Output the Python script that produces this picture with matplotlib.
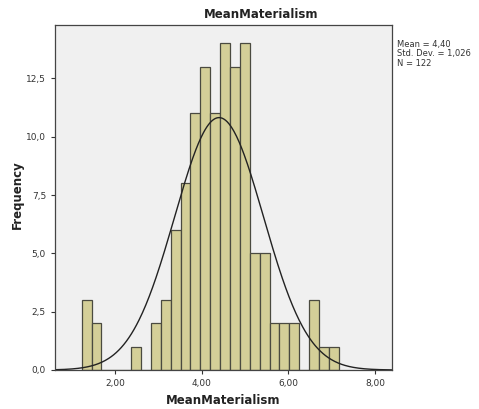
import numpy as np
import matplotlib.pyplot as plt

# histogram data
bin_start = 1.231
bin_width = 0.2281
counts = [3, 2, 0, 0, 0, 1, 0, 2, 3, 6, 8, 11, 13, 11, 14, 13, 14, 5, 5, 2, 2, 2, 0, 3, 1, 1]
mean_val = 4.40
sd_val = 1.026
n_val = 122
xticks = [2, 4, 6, 8]
yticks = [0, 2.5, 5, 7.5, 10, 12.5]

fig = plt.figure(figsize=(4.79, 4.09), dpi=100)
ax = fig.add_axes([55 / 479, 1 - 370 / 409, (392 - 55) / 479, (370 - 25) / 409])
ax.set_facecolor('#f0f0f0')

lefts = bin_start + bin_width * np.arange(len(counts))
ax.bar(lefts, counts, width=bin_width, align='edge', color='#d4cf98',
       edgecolor='#4a4a40', linewidth=0.9)

# normal curve scaled to counts
xs = np.linspace(0.6, 8.4, 400)
ys = n_val * bin_width / (sd_val * np.sqrt(2 * np.pi)) * np.exp(-0.5 * ((xs - mean_val) / sd_val) ** 2)
ax.plot(xs, ys, color='#222222', linewidth=1.0)

ax.set_xlim(0.615, 8.39)
ax.set_ylim(0, 14.79)
ax.set_xticks(xticks)
ax.set_xticklabels(['%.2f' % t for t in xticks])
ax.set_xticklabels([('%.2f' % t).replace('.', ',') for t in xticks])
ax.set_yticks(yticks)
ax.set_yticklabels([('%.1f' % t).replace('.', ',') for t in yticks])
ax.tick_params(labelsize=6.5, colors='#333333', length=3, width=0.8)
for s in ax.spines.values():
    s.set_color('#444444')
    s.set_linewidth(0.9)

fig.text(261 / 479, 1 - 14 / 409, 'MeanMaterialism', ha='center', va='center',
         fontsize=8.5, fontweight='bold', color='#222222')
fig.text(223 / 479, 1 - 400 / 409, 'MeanMaterialism', ha='center', va='center',
         fontsize=8.5, fontweight='bold', color='#222222')
fig.text(17 / 479, 1 - 195 / 409, 'Frequency', ha='center', va='center', rotation=90,
         fontsize=8.5, fontweight='bold', color='#222222')
fig.text(397 / 479, 1 - 40 / 409,
         'Mean = %s\nStd. Dev. = %s\nN = %d' % (('%.2f' % mean_val).replace('.', ','),
                                               ('%.3f' % sd_val).replace('.', ','), n_val),
         ha='left', va='top', fontsize=6, linespacing=1.05, color='#333333')

fig.savefig('out.png', dpi=100)
